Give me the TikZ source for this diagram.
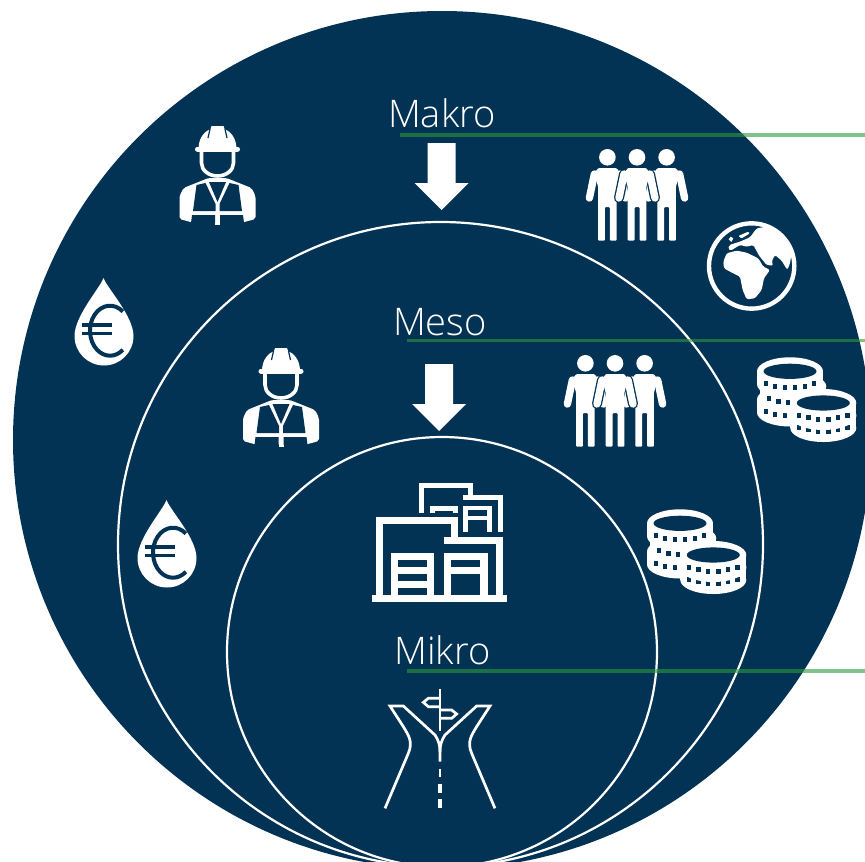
\documentclass[tikz,border=0pt]{standalone}
\usepackage{fontspec}
\newfontfamily\labelfont{Open Sans Light}
\definecolor{circleblue}{RGB}{2,51,84}
\definecolor{linegreen}{RGB}{46,153,60}
\newcommand{\coinpiece}[2]{
  \fill[white] (#1-33,#2) rectangle (#1+33,#2+13);
  \fill[white] (#1,#2+13) ellipse (33 and 14);
  \fill[white] (#1,#2) ellipse (33 and 14);
  \fill[circleblue] (#1,#2) ellipse (26.5 and 7.6);
  \foreach \a in {43,63,81,99,117,137}
    \fill[circleblue] ({#1+33*cos(\a)-2.2},{#2+14*sin(\a)}) rectangle ++(4.4,5);
}
\begin{document}
\begin{tikzpicture}[x=1pt,y=-1pt,
  ring node/.style={circle,draw=white,line width=2.2pt,inner sep=0pt},
  label node/.style={text=white,anchor=base,font=\labelfont\fontsize{38}{40}\selectfont},
  level line/.style={draw=linegreen,line width=3.4pt,opacity=0.6},
  roadline/.style={draw=white,line width=2.7pt,line join=miter},
  worker/.pic={
    \fill[white] (-19,-26) .. controls (-19,-38) and (-12,-44) .. (-7,-46) -- (-6,-49) -- (6,-49) -- (7,-46)
      .. controls (12,-44) and (19,-38) .. (19,-26) -- cycle;
    \draw[circleblue,line width=1.2pt] (-7.5,-46) -- (-9.5,-37) (7.5,-46) -- (9.5,-37);
    \draw[white,line width=5pt,line cap=round] (-20,-26) -- (20,-26);
    \draw[white,line width=3.6pt] (-16,-24) -- (-16,-12) arc (180:0:16 and 13) -- (16,-24);
    \fill[white,rounded corners=2pt] (-38,44) -- (-38,21) -- (-34,13) -- (-9,3) -- (9,3) -- (34,13) -- (38,21) -- (38,44)
      -- (25,47.5) -- (-25,47.5) -- cycle;
    \fill[white] (-2.5,40) rectangle (2.5,49.5);
    \fill[circleblue] (-21,10) -- (-12,8) -- (-2,29) -- (-2,36) -- (-24.5,36) -- cycle;
    \fill[circleblue] (21,10) -- (12,8) -- (2,29) -- (2,36) -- (24.5,36) -- cycle;
    \fill[circleblue] (-8.5,7) -- (8.5,7) -- (0,27) -- cycle;
    \fill[circleblue] (-25.5,40) -- (-2.5,40) -- (-2.5,48) -- (-26.5,48) -- cycle;
    \fill[circleblue] (25.5,40) -- (2.5,40) -- (2.5,48) -- (26.5,48) -- cycle;
  },
  people/.pic={
    \foreach \d in {-29.6,29.6,0} {
      \draw[circleblue,line width=10pt,line cap=round] (\d-13,-21) -- (\d-18,3) (\d+13,-21) -- (\d+18,3);
      \draw[white,line width=7.4pt,line cap=round] (\d-13,-21) -- (\d-18,3) (\d+13,-21) -- (\d+18,3);
      \fill[white] (\d,-37.7) circle (8.3);
      \fill[white,rounded corners=1pt] (\d-9.3,45.7) -- (\d-9.3,-8) -- (\d-13,-22) -- (\d-9,-27) -- (\d+9,-27) -- (\d+13,-22)
        -- (\d+9.3,-8) -- (\d+9.3,45.7) -- (\d+2.5,45.7) -- (\d+2.5,12) -- (\d-2.5,12) -- (\d-2.5,45.7) -- cycle;
    }
  },
  coins/.pic={
    \coinpiece{-15}{1.5}
    \coinpiece{-11.7}{-11.5}
    \coinpiece{-15}{-26.7}
    \coinpiece{18.3}{17}
    \coinpiece{18.3}{5}
  },
  euro drop/.pic={
    \fill[white] (-0.5,-44) .. controls (3,-34) and (29.5,-6) .. (29.5,14) arc (0:180:29.5) .. controls (-29.5,-6) and (-4,-34) .. cycle;
    \draw[circleblue,line width=4pt] ({6+20*cos(50)},{8.7-25*sin(50)}) arc[start angle=310,end angle=50,x radius=20,y radius=25];
    \draw[circleblue,line width=3.4pt] (-22,3) -- (8,3) (-22,11.6) -- (8,11.6);
  },
  down arrow/.pic={
    \fill[white] (-14,-33) -- (14,-33) -- (14,7) -- (27,7) -- (0,34) -- (-27,7) -- (-14,7) -- cycle;
  }]
  \clip (0,0) rectangle (865,862);
  \useasboundingbox (0,0) rectangle (865,862);
  \fill[white] (0,0) rectangle (865,862);

  \node[circle,fill=circleblue,inner sep=0pt,minimum size=858pt] (makro ring) at (442,440) {};
  \node[ring node,minimum size=645pt] (meso ring) at (440.5,544.5) {};
  \node[ring node,minimum size=430pt] (mikro ring) at (442,652) {};

  \node[label node] (makro) at (442,127) {Makro};
  \node[label node] (meso) at (440,335) {Meso};
  \node[label node] (mikro) at (442.5,664) {Mikro};

  \coordinate (makro start) at (400,135);
  \coordinate (makro end) at (865,135);
  \coordinate (meso start) at (407,340.5);
  \coordinate (meso end) at (865,340.5);
  \coordinate (mikro start) at (407,671);
  \coordinate (mikro end) at (865,671);
  \path[level line]
    (makro start) edge (makro end)
    (meso start) edge (meso end)
    (mikro start) edge (mikro end);

  \pic at (441.5,176) {down arrow};
  \pic at (439,397) {down arrow};
  \pic at (217.5,175) {worker};
  \pic at (281,397) {worker};
  \pic at (637,195) {people};
  \pic at (615,401) {people};
  \pic at (104,322) {euro drop};
  \pic at (167,544) {euro drop};
  \pic at (805,398) {coins};
  \pic at (695,550) {coins};

  \begin{scope}[shift={(570,130)},x=0.3333pt,y=-0.3333pt]
    \draw[white,line width=4.4pt] (545,408) circle (128);
    \fill[white,rounded corners=1.5pt] (460,395) -- (470,370) -- (500,362) -- (530,368) -- (565,385) -- (580,410) -- (600,420)
      -- (582,445) -- (575,480) -- (555,505) -- (530,508) -- (518,480) -- (510,440) -- (480,425) -- (462,415) -- cycle;
    \fill[white,rounded corners=1.5pt] (475,358) -- (478,345) -- (510,335) -- (540,322) -- (560,295) -- (590,290) -- (625,305)
      -- (650,330) -- (665,370) -- (660,400) -- (652,420) -- (635,392) -- (615,375) -- (605,395) -- (610,407) -- (590,405)
      -- (568,378) -- (550,345) -- (530,350) -- (510,345) -- (482,362) -- cycle;
    \fill[white] (482,320) -- (490,325) -- (484,336) -- (476,328) -- cycle;
    \fill[white,rounded corners=1pt] (505,318) -- (535,305) -- (540,310) -- (515,325) -- cycle;
  \end{scope}

  \begin{scope}[shift={(350,470)},x=0.3333pt,y=-0.3333pt]
    \draw[white,line width=5pt] (216,128) -- (216,45) -- (362,45) -- (362,82);
    \draw[white,line width=5pt] (340,82) -- (452,82) -- (452,185);
    \draw[white,line width=5pt] (249,128) -- (249,115) -- (318,115) -- (318,128);
    \draw[white,line width=4.6pt] (347,185) -- (347,114) -- (419,114) -- (419,185);
    \draw[white,line width=4pt] (347,144) -- (419,144);
    \draw[white,line width=7pt] (87,380) -- (87,152) -- (315,152) -- (315,210);
    \draw[white,line width=7pt] (283,211) -- (448,211) -- (448,380);
    \fill[white] (65,375) rectangle (470,397);
    \fill[white] (124,248) rectangle (252,380);
    \fill[white] (283,248) rectangle (413,380);
    \fill[circleblue] (145,270) rectangle (230,290);
    \fill[circleblue] (145,313) rectangle (230,332);
    \fill[circleblue] (145,355) rectangle (230,375);
    \fill[circleblue] (304,270) rectangle (390,290);
    \fill[circleblue] (304,313) rectangle (390,375);
  \end{scope}

  \begin{scope}[shift={(360,680)},x=0.3333pt,y=-0.3333pt]
    \draw[roadline] (75,385) -- (145,220) .. controls (160,185) and (145,165) .. (130,140) -- (90,78) -- (130,78) -- (225,165)
      .. controls (235,180) and (240,195) .. (240,215) -- (240,245);
    \draw[roadline] (405,385) -- (335,220) .. controls (320,185) and (335,165) .. (350,140) -- (390,78) -- (350,78) -- (255,165)
      .. controls (245,180) and (240,195) .. (240,215);
    \draw[white,line width=1.8pt] (240,268) -- (240,292);
    \draw[white,line width=4pt] (240,312) -- (240,340) (240,358) -- (240,385);
    \draw[roadline] (240,28) -- (240,152);
    \draw[roadline] (240,55) -- (205,55) -- (190,67) -- (205,80) -- (240,80);
    \draw[roadline] (240,90) -- (275,90) -- (290,102) -- (275,115) -- (240,115);
  \end{scope}
\end{tikzpicture}
\end{document}
